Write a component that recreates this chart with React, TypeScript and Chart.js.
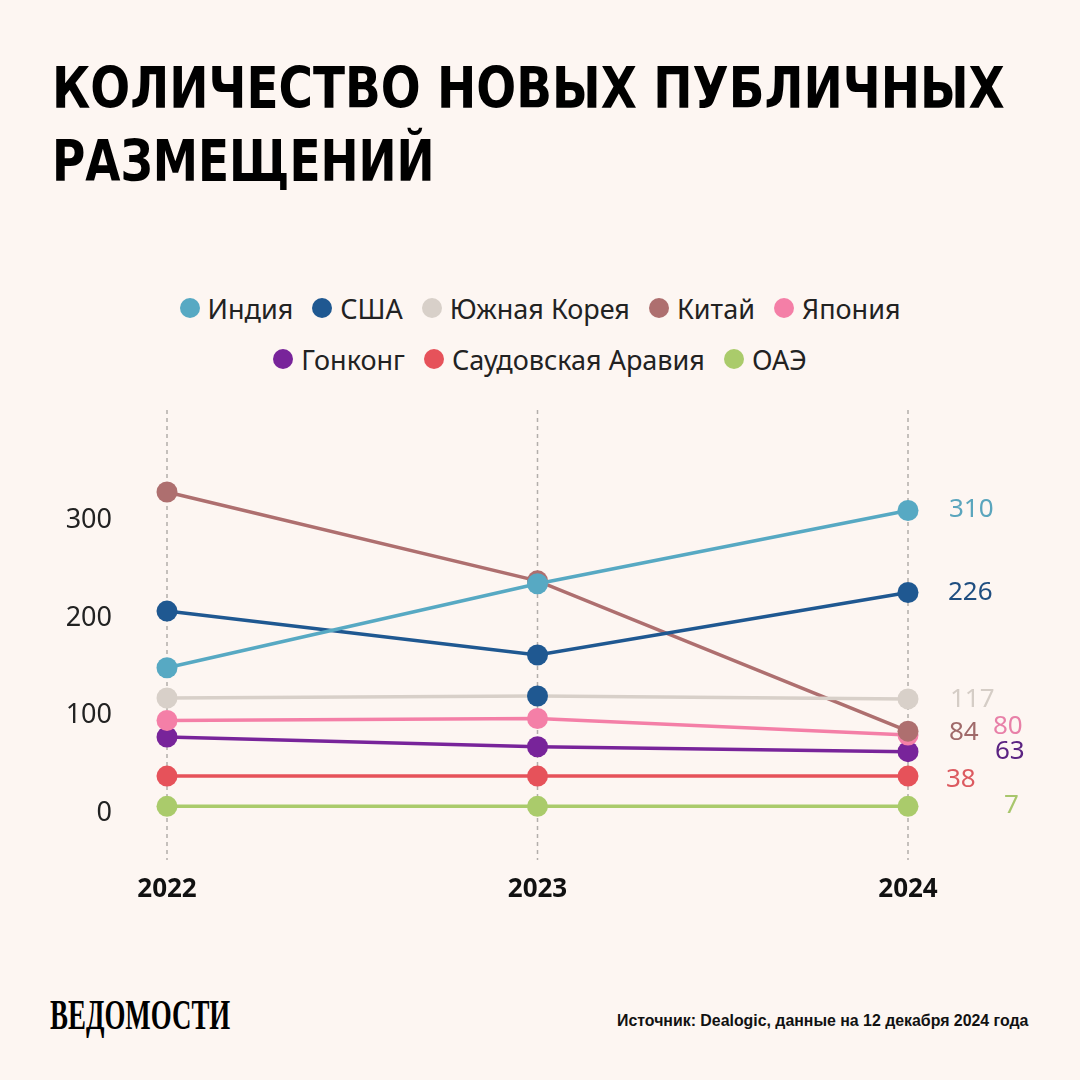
import React, { useEffect, useLayoutEffect, useRef } from 'react';
import { Chart, registerables } from 'chart.js';

Chart.register(...registerables);

const years = ['2022', '2023', '2024'];
const seriesNames = ['Индия', 'США', 'Южная Корея', 'Китай', 'Япония', 'Гонконг', 'Саудовская Аравия', 'ОАЭ'];
const india = [149, 235, 310];
const usa = [207, 162, 226];
const southKorea = [118, 120, 117];
const china = [329, 238, 84];
const japan = [95, 97, 80];
const hongKong = [78, 68, 63];
const saudi = [38, 38, 38];
const uae = [7, 7, 7];
const yTicks = [0, 100, 200, 300];

const titleLine1 = 'КОЛИЧЕСТВО НОВЫХ ПУБЛИЧНЫХ';
const titleLine2 = 'РАЗМЕЩЕНИЙ';
const sourceText = 'Источник: Dealogic, данные на 12 декабря 2024 года';
const logoText = 'ВЕДОМОСТИ';

const seriesValues = [india, usa, southKorea, china, japan, hongKong, saudi, uae];
const seriesColors = ['#57a9c3', '#1f5891', '#d8d0c9', '#ae6f6f', '#f47fa7', '#78249a', '#e6525a', '#aacb6b'];
const labelColors = ['#5aa5bd', '#1f4e80', '#d5cdc6', '#a06a6a', '#e880a8', '#5b2382', '#dc5a60', '#a8c66c'];
const labelDx = [41, 40, 42, 41, 85, 87, 38, 96];
const labelDy = [-1, 0, 1, 1, -8, 0, 4, -1];

const BG = '#fdf6f2';

function FitText(props: { text: string; width: number; left: number; top: number; style: any; anchorRight?: boolean }) {
  const ref = useRef<HTMLDivElement>(null);
  useLayoutEffect(() => {
    const el = ref.current;
    if (!el) return;
    el.style.transform = 'none';
    const w = el.scrollWidth;
    const s = props.width / w;
    el.style.transformOrigin = props.anchorRight ? 'right top' : 'left top';
    el.style.transform = `scaleX(${s})`;
  }, []);
  const pos: any = props.anchorRight
    ? { right: 1080 - props.left, top: props.top }
    : { left: props.left, top: props.top };
  return (
    <div ref={ref} style={{ position: 'absolute', whiteSpace: 'nowrap', ...pos, ...props.style }}>
      {props.text}
    </div>
  );
}

const endLabelPlugin = {
  id: 'endLabels',
  afterDatasetsDraw(chart: any) {
    const ctx = chart.ctx;
    ctx.save();
    ctx.font = '26px "Noto Sans"';
    ctx.textAlign = 'left';
    ctx.textBaseline = 'middle';
    chart.data.datasets.forEach((ds: any, i: number) => {
      const meta = chart.getDatasetMeta(i);
      const pt = meta.data[meta.data.length - 1];
      const v = ds.data[ds.data.length - 1];
      ctx.fillStyle = labelColors[i];
      ctx.fillText(String(v), pt.x + labelDx[i], pt.y + labelDy[i]);
    });
    ctx.restore();
  },
};

const dashGridPlugin = {
  id: 'dashGrid',
  beforeDatasetsDraw(chart: any) {
    const xs = chart.scales.x;
    const ctx = chart.ctx;
    ctx.save();
    ctx.strokeStyle = '#b3aeab';
    ctx.lineWidth = 1.5;
    ctx.setLineDash([4, 4]);
    years.forEach((_, i) => {
      const x = xs.getPixelForValue(i);
      ctx.beginPath();
      ctx.moveTo(x, chart.chartArea.top);
      ctx.lineTo(x, chart.chartArea.bottom);
      ctx.stroke();
    });
    ctx.restore();
  },
};

export default function App() {
  const canvasRef = useRef<HTMLCanvasElement>(null);

  useEffect(() => {
    const canvas = canvasRef.current;
    if (!canvas) return;
    const datasets = seriesValues.map((vals, i) => ({
      label: seriesNames[i],
      data: vals,
      borderColor: seriesColors[i],
      backgroundColor: seriesColors[i],
      pointBackgroundColor:
        i === 2 ? [seriesColors[2], seriesColors[1], seriesColors[2]] : seriesColors[i],
      pointBorderWidth: 0,
      pointRadius: 10.5,
      pointHoverRadius: 10.5,
      borderWidth: 3.5,
      tension: 0,
      clip: false as any,
    }));
    const chart = new Chart(canvas, {
      type: 'line',
      data: { labels: years, datasets },
      options: {
        animation: false,
        responsive: false,
        maintainAspectRatio: false,
        layout: { padding: { top: 10, right: 172, left: 0, bottom: 0 }, autoPadding: false } as any,
        plugins: { legend: { display: false }, tooltip: { enabled: false } },
        scales: {
          x: {
            type: 'category',
            offset: false,
            border: { display: false },
            grid: { display: false, drawTicks: false },
            ticks: {
              color: '#111',
              font: { family: 'Noto Sans', size: 26, weight: 'bold' },
              padding: 14,
            },
            afterFit(scale: any) {
              scale.height = 60;
              scale.paddingLeft = 0;
              scale.paddingRight = 0;
            },
          },
          y: {
            min: -48,
            max: 413,
            border: { display: false },
            grid: { display: false, drawTicks: false },
            afterBuildTicks(scale: any) {
              scale.ticks = yTicks.map((v) => ({ value: v }));
            },
            ticks: {
              color: '#222',
              font: { family: 'Noto Sans', size: 27 },
              padding: 55,
            },
            afterFit(scale: any) {
              scale.width = 167;
              scale.paddingTop = 0;
              scale.paddingBottom = 0;
            },
          },
        },
      },
      plugins: [dashGridPlugin, endLabelPlugin],
    });
    return () => chart.destroy();
  }, []);

  const legendRow = (idxs: number[], top: number) => (
    <div
      style={{
        position: 'absolute',
        left: 0,
        top,
        width: 1080,
        height: 40,
        display: 'flex',
        justifyContent: 'center',
        alignItems: 'center',
        gap: 19,
        fontFamily: 'Noto Sans',
        fontSize: 27,
        color: '#222',
      }}
    >
      {idxs.map((i) => (
        <div key={i} style={{ display: 'flex', alignItems: 'center', gap: 8 }}>
          <span
            style={{
              display: 'inline-block',
              width: 20,
              height: 20,
              borderRadius: 10,
              background: seriesColors[i],
            }}
          />
          <span>{seriesNames[i]}</span>
        </div>
      ))}
    </div>
  );

  return (
    <div
      style={{
        position: 'absolute',
        left: 0,
        top: 0,
        width: 1080,
        height: 1080,
        background: BG,
        overflow: 'hidden',
      }}
    >
      <FitText
        text={titleLine1}
        width={953}
        left={52}
        top={60}
        style={{ fontFamily: '"DejaVu Sans Condensed", "DejaVu Sans"', fontWeight: 900, fontSize: 57, lineHeight: '57px', color: '#000' }}
      />
      <FitText
        text={titleLine2}
        width={383}
        left={52}
        top={133}
        style={{ fontFamily: '"DejaVu Sans Condensed", "DejaVu Sans"', fontWeight: 900, fontSize: 57, lineHeight: '57px', color: '#000' }}
      />
      {legendRow([0, 1, 2, 3, 4], 288)}
      {legendRow([5, 6, 7], 339)}
      <canvas
        ref={canvasRef}
        width={1080}
        height={520}
        style={{ position: 'absolute', left: 0, top: 400, width: 1080, height: 520 }}
      />
      <FitText
        text={logoText}
        width={180}
        left={50}
        top={994}
        style={{ fontFamily: '"Liberation Serif"', fontWeight: 'bold', fontSize: 42, lineHeight: '42px', color: '#000' }}
      />
      <FitText
        text={sourceText}
        width={411}
        left={1028}
        anchorRight
        top={1011}
        style={{ fontFamily: '"Liberation Sans Narrow", "Liberation Sans"', fontWeight: 'bold', fontSize: 17, lineHeight: '20px', color: '#111' }}
      />
    </div>
  );
}
